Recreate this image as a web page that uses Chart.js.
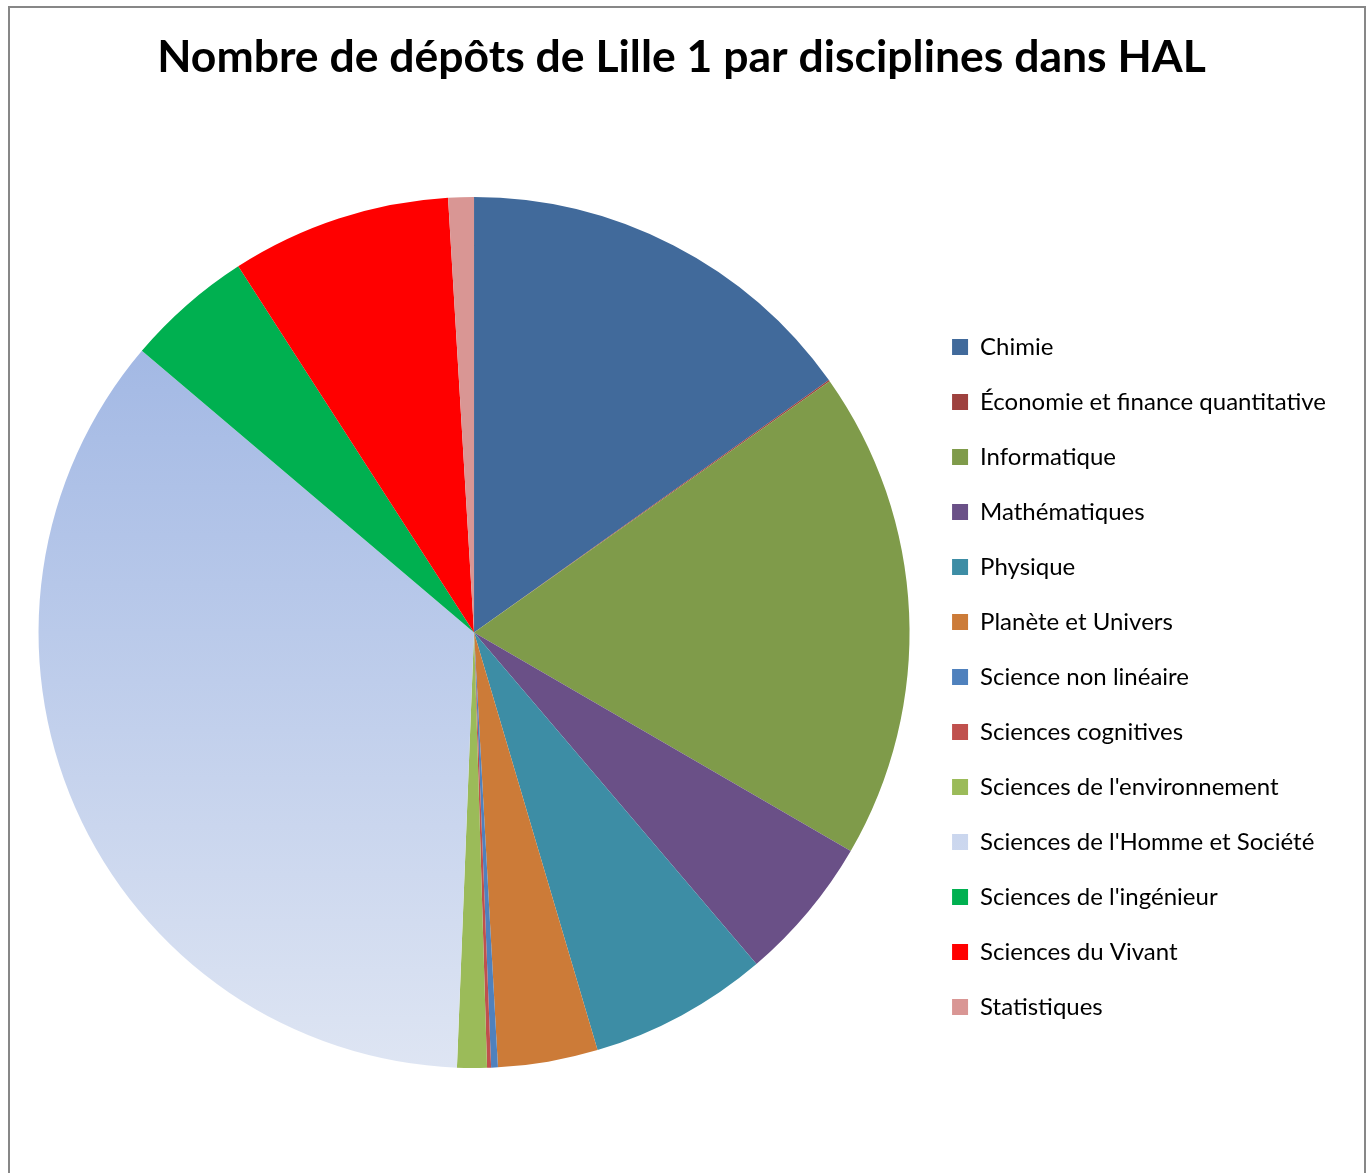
<!DOCTYPE html>
<html lang="fr">
<head>
<meta charset="utf-8">
<title>Dépôts HAL Lille 1</title>
<script src="https://cdn.jsdelivr.net/npm/chart.js@4"></script>
<style>
    html, body { margin: 0; padding: 0; background: #fff; overflow: hidden; }
    #frame {
        position: absolute; left: 8px; top: 6px;
        width: 1358px; height: 1300px;
        box-sizing: border-box;
        border: 2px solid #878787;
    }
    #wrap { position: absolute; left: 0; top: 0; width: 1371px; height: 1173px; }
</style>
</head>
<body>
<div id="frame"></div>
<div id="wrap"><canvas id="halChart"></canvas></div>
<script>
const disciplines = [
    'Chimie',
    'Économie et finance quantitative',
    'Informatique',
    'Mathématiques',
    'Physique',
    'Planète et Univers',
    'Science non linéaire',
    'Sciences cognitives',
    "Sciences de l'environnement",
    "Sciences de l'Homme et Société",
    "Sciences de l'ingénieur",
    'Sciences du Vivant',
    'Statistiques'
];

// nombre de dépôts
const depots = [303, 1, 363, 108, 133, 74, 5, 3, 22, 711, 94, 163, 19];

const sliceColors = [
    '#416a9b', '#9e413e', '#7f9b4a', '#6a5087', '#3d8da5', '#cc7b38',
    '#4f81bd', '#c0504d', '#9bbb59', null, '#00b050', '#ff0000', '#d99694'
];

const FONT = 'Lato, "Open Sans", sans-serif';

function shsGradient(chart) {
    const area = chart.chartArea;
    if (!area) return '#b9cbeb';
    const g = chart.ctx.createLinearGradient(0, area.top, 0, area.bottom);
    g.addColorStop(0, '#96afe1');
    g.addColorStop(1, '#dee5f3');
    return g;
}

document.addEventListener('DOMContentLoaded', () => {
    const ctx = document.getElementById('halChart').getContext('2d');

    new Chart(ctx, {
        type: 'pie',
        data: {
            labels: disciplines,
            datasets: [{
                data: depots,
                backgroundColor: (c) => sliceColors[c.dataIndex] || shsGradient(c.chart),
                borderWidth: 0
            }]
        },
        options: {
            responsive: true,
            maintainAspectRatio: false,
            animation: false,
            layout: {
                padding: { left: 27, right: 35, top: 0, bottom: 105 }
            },
            plugins: {
                title: {
                    display: true,
                    text: 'Nombre de dépôts de Lille 1 par disciplines dans HAL',
                    color: '#000',
                    font: { family: FONT, size: 44.5, weight: 'bold' },
                    padding: { top: 31, bottom: 112.6 }
                },
                legend: {
                    position: 'right',
                    // titre vide : sert seulement à descendre la légende
                    title: {
                        display: true,
                        text: ' ',
                        font: { size: 10 },
                        padding: { top: 0, bottom: 274 }
                    },
                    labels: {
                        color: '#000',
                        font: { family: FONT, size: 24 },
                        boxWidth: 16,
                        boxHeight: 16,
                        padding: 31
                    }
                },
                tooltip: { enabled: false }
            }
        }
    });
});
</script>
</body>
</html>
